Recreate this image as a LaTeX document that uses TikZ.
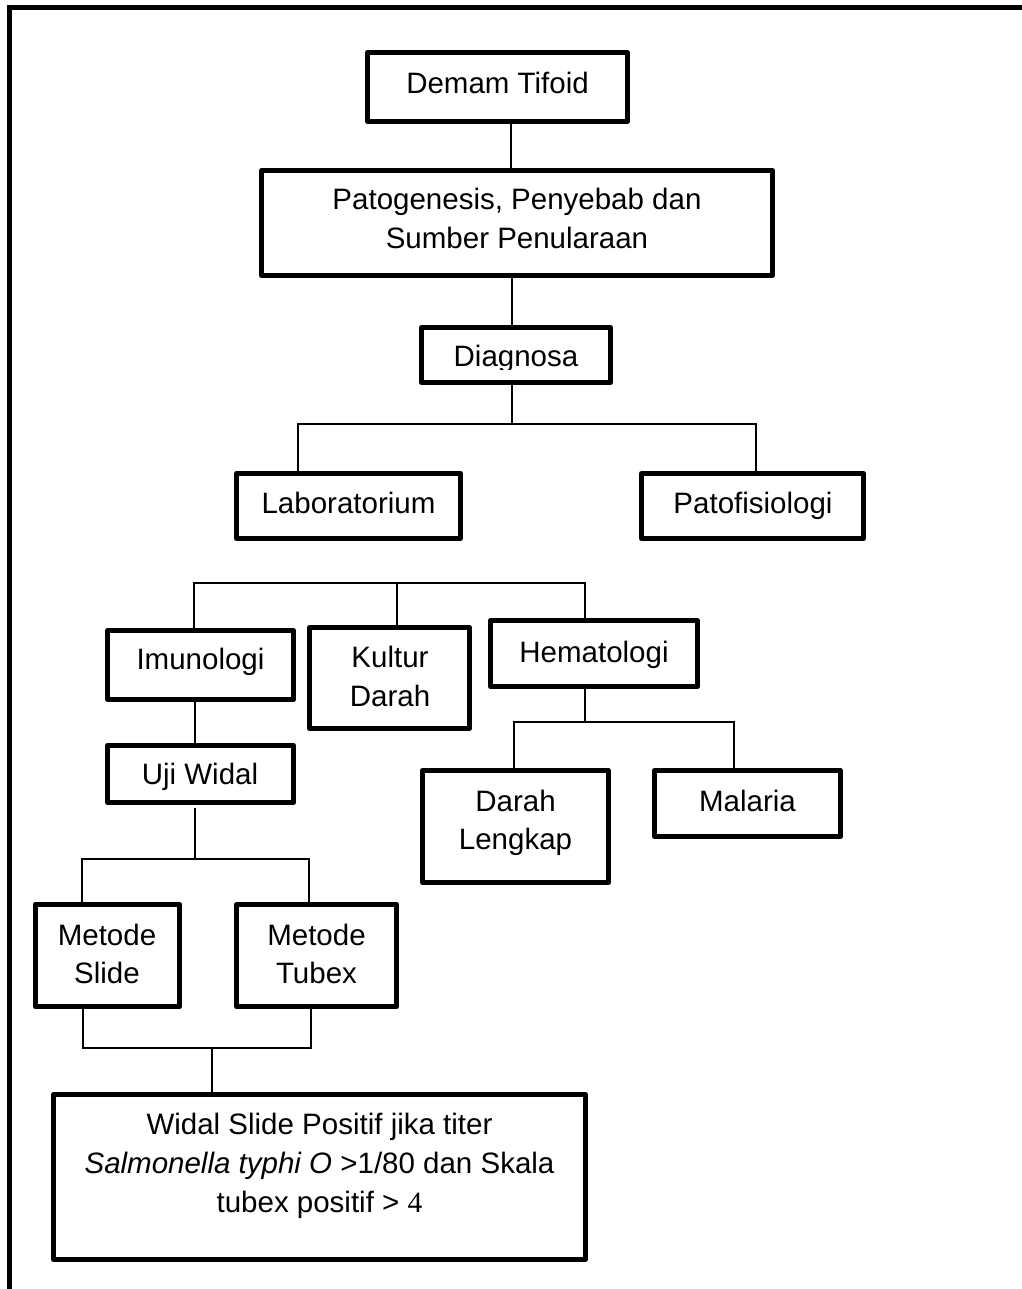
\documentclass[tikz,border=0pt]{standalone}
\usepackage{fontspec}
\setmainfont{Liberation Sans}
\newfontfamily\serifnum{Liberation Serif}
\begin{document}
\begin{tikzpicture}[x=1pt,y=-1pt,
  box/.style={draw, line width=5pt, line join=round, inner sep=0pt},
  txt/.style={font=\fontsize{29.5}{34}\selectfont, inner sep=0pt, anchor=base},
  link/.style={line width=1.5pt},
  frameline/.style={line width=5pt}]
\useasboundingbox[fill=white] (0,0) rectangle (1021,1289);
% frame
\coordinate (fc) at (9.5,7.5);
\coordinate (fb) at (9.5,1295);
\coordinate (fr) at (1025,7.5);
\draw[frameline] (fb) -- (fc) -- (fr);
% boxes
\node[box, minimum width=260, minimum height=69] (demam) at (497.5,87) {};
\node[box, minimum width=511, minimum height=105] (pato) at (517,223) {};
\node[box, minimum width=189, minimum height=55] (diag) at (516,355) {};
\node[box, minimum width=224, minimum height=65] (lab) at (348.5,506) {};
\node[box, minimum width=222, minimum height=65] (patof) at (752.5,506) {};
\node[box, minimum width=186, minimum height=69] (imun) at (200.5,665) {};
\node[box, minimum width=160, minimum height=101] (kultur) at (389.5,678) {};
\node[box, minimum width=207, minimum height=66] (hemat) at (594,653.5) {};
\node[box, minimum width=186, minimum height=57] (uji) at (200.5,774) {};
\node[box, minimum width=186, minimum height=112] (darah) at (515.5,826.5) {};
\node[box, minimum width=186, minimum height=66] (malaria) at (747.5,803.5) {};
\node[box, minimum width=144.5, minimum height=102] (slide) at (107.5,955.5) {};
\node[box, minimum width=160, minimum height=102] (tubex) at (316.5,955.5) {};
\node[box, minimum width=532, minimum height=165] (hasil) at (319.5,1177) {};
% texts
\node[txt] (t-demam) at (497.5,93.3) {Demam Tifoid};
\node[txt] (t-pato1) at (517,210) {Patogenesis, Penyebab dan};
\node[txt] (t-pato2) at (517,248) {Sumber Penularaan};
\begin{scope}
  \clip (419,320) rectangle (613,369.5);
  \node[txt] (t-diag) at (516,366.5) {Diagnosa};
\end{scope}
\node[txt] (t-lab) at (348.5,513) {Laboratorium};
\node[txt] (t-patof) at (753,513) {Patofisiologi};
\node[txt] (t-imun) at (200.5,669) {Imunologi};
\node[txt] (t-kul1) at (390,667) {Kultur};
\node[txt] (t-kul2) at (390,706) {Darah};
\node[txt] (t-hemat) at (594,662) {Hematologi};
\node[txt] (t-uji) at (200,784) {Uji Widal};
\node[txt] (t-dar1) at (515.5,811) {Darah};
\node[txt] (t-dar2) at (515.5,849) {Lengkap};
\node[txt] (t-mal) at (747.5,811) {Malaria};
\node[txt] (t-sl1) at (107,945.5) {Metode};
\node[txt] (t-sl2) at (107,983) {Slide};
\node[txt] (t-tu1) at (316.5,945.5) {Metode};
\node[txt] (t-tu2) at (316.5,983) {Tubex};
\node[txt] (t-h1) at (319.5,1134) {Widal Slide Positif jika titer};
\node[txt] (t-h2) at (319.5,1173) {\textit{Salmonella typhi O} >1/80 dan Skala};
\node[txt] (t-h3) at (319.5,1212) {tubex positif > {\serifnum 4}};
% connector coordinates
\coordinate (x1) at (511,0);
\coordinate (x2) at (512,0);
\coordinate (busA) at (512,424);
\coordinate (la) at (298,0);
\coordinate (pa) at (756,0);
\coordinate (busB) at (397,583);
\coordinate (ix) at (194,0);
\coordinate (hx) at (585,0);
\coordinate (ux) at (195,0);
\coordinate (busC) at (195,859);
\coordinate (sx) at (82,0);
\coordinate (tx) at (309,0);
\coordinate (busD) at (585,722);
\coordinate (dx) at (514,0);
\coordinate (mx) at (734,0);
\coordinate (busE) at (212,1048);
\coordinate (sbx) at (83,0);
\coordinate (tbx) at (311,0);
% connectors
\draw[link] (demam.south -| x1) -- (pato.north -| x1);
\draw[link] (pato.south -| x2) -- (diag.north -| x2);
\draw[link] (diag.south -| busA) -- (busA);
\draw[link] (lab.north -| la) |- (busA) -| (patof.north -| pa);
\draw[link] (imun.north -| ix) |- (busB) -| (hemat.north -| hx);
\draw[link] (busB) -- (kultur.north -| busB);
\draw[link] (imun.south -| ux) -- (uji.north -| ux);
\draw[link] ([xshift=-5.5pt,yshift=-2.5pt]uji.south) -- (busC);
\draw[link] (slide.north -| sx) |- (busC) -| (tubex.north -| tx);
\draw[link] (hemat.south -| busD) -- (busD);
\draw[link] (darah.north -| dx) |- (busD) -| (malaria.north -| mx);
\draw[link] (slide.south -| sbx) |- (busE) -| (tubex.south -| tbx);
\draw[link] (busE) -- (hasil.north -| busE);
\end{tikzpicture}
\end{document}
